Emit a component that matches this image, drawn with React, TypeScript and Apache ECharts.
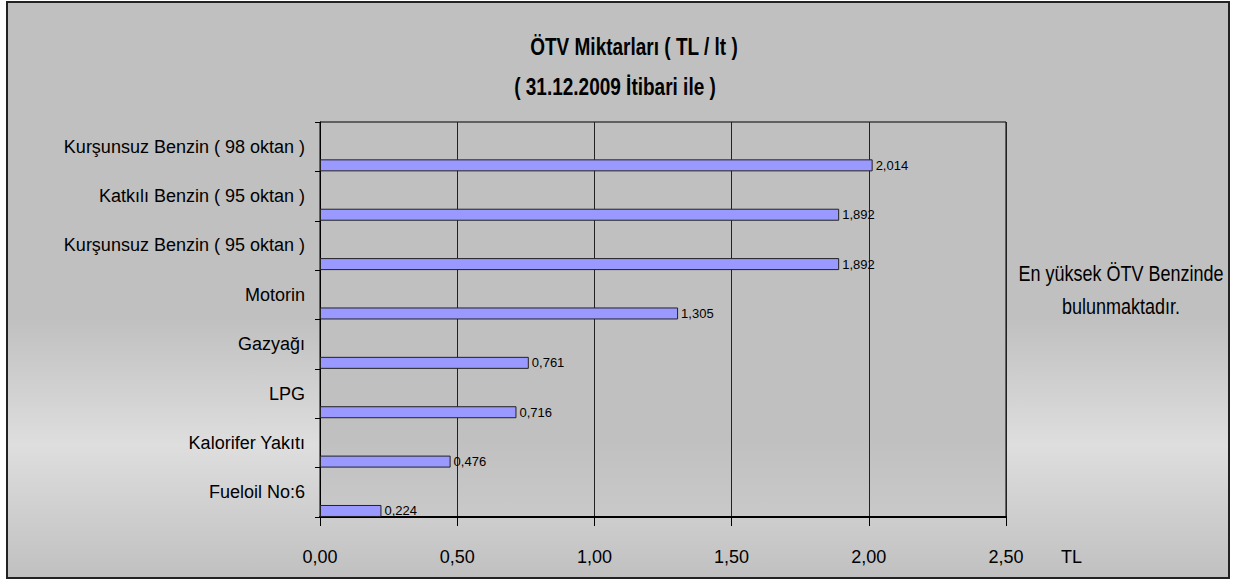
import React, { useEffect, useRef } from "react";
import * as echarts from "echarts";

const categories = [
  "Kurşunsuz Benzin ( 98 oktan )",
  "Katkılı Benzin ( 95 oktan )",
  "Kurşunsuz Benzin ( 95 oktan )",
  "Motorin",
  "Gazyağı",
  "LPG",
  "Kalorifer Yakıtı",
  "Fueloil No:6",
];
const values = [2.014, 1.892, 1.892, 1.305, 0.761, 0.716, 0.476, 0.224];
const titleLines = ["ÖTV Miktarları ( TL / lt )", "( 31.12.2009 İtibari ile )"];
const noteLines = ["En yüksek ÖTV Benzinde", "bulunmaktadır."];
const axisUnit = "TL";

const FONT = "'Liberation Sans', Arial, Helvetica, sans-serif";

export default function App() {
  const ref = useRef<HTMLDivElement>(null);
  useEffect(() => {
    document.body.style.margin = "0";
    const chart = echarts.init(ref.current!, null, { renderer: "svg" });
    const fmt = (v: number, d: number) => v.toFixed(d).replace(".", ",");
    const stretchedText = (text: string, x: number, y: number, font: string) => ({
      type: "text",
      x,
      y,
      scaleY: 1.22,
      style: {
        text,
        font,
        fill: "#000",
        textAlign: "center",
        textVerticalAlign: "middle",
      },
    });
    chart.setOption({
      animation: false,
      backgroundColor: "#ffffff",
      textStyle: { fontFamily: FONT },
      graphic: [
        {
          type: "rect",
          z: -10,
          silent: true,
          shape: { x: 7, y: 2, width: 1222, height: 576 },
          style: {
            fill: new echarts.graphic.LinearGradient(0, 0, 0, 1, [
              { offset: 0, color: "#c0c0c0" },
              { offset: 0.55, color: "#c0c0c0" },
              { offset: 0.77, color: "#dedede" },
              { offset: 1, color: "#c0c0c0" },
            ]),
            stroke: "#222222",
            lineWidth: 2,
          },
        },
        stretchedText(titleLines[0], 634, 47, `bold 19px ${FONT}`),
        stretchedText(titleLines[1], 615, 87, `bold 19px ${FONT}`),
        stretchedText(noteLines[0], 1121, 273, `18px ${FONT}`),
        stretchedText(noteLines[1], 1121, 306, `18px ${FONT}`),
      ],
      grid: {
        left: 320,
        right: 230,
        top: 122,
        bottom: 64,
        show: true,
        borderColor: "#000",
        borderWidth: 1,
        backgroundColor: new echarts.graphic.LinearGradient(0, 0, 0, 1, [
          { offset: 0, color: "#c0c0c0" },
          { offset: 0.8, color: "#c0c0c0" },
          { offset: 1, color: "#c9c9c9" },
        ]),
      },
      xAxis: {
        type: "value",
        min: 0,
        max: 2.5,
        interval: 0.5,
        name: axisUnit,
        nameLocation: "end",
        nameGap: 55,
        nameTextStyle: {
          fontSize: 18,
          color: "#000",
          fontFamily: FONT,
          verticalAlign: "top",
          padding: [31, 0, 0, 0],
        },
        axisLine: { show: true, lineStyle: { color: "#000", width: 2 } },
        axisTick: { show: true, length: 9, lineStyle: { color: "#000" } },
        axisLabel: {
          fontSize: 18,
          color: "#000",
          margin: 31,
          fontFamily: FONT,
          formatter: (v: number) => fmt(v, 2),
        },
        splitLine: { show: true, lineStyle: { color: "#222", width: 1 } },
      },
      yAxis: {
        type: "category",
        data: categories,
        inverse: true,
        axisLine: { show: true, lineStyle: { color: "#000", width: 1 } },
        axisTick: { show: true, length: 5, lineStyle: { color: "#000" } },
        axisLabel: { fontSize: 18, color: "#000", margin: 15, fontFamily: FONT },
        splitLine: { show: false },
      },
      series: [
        {
          type: "bar",
          name: "spacer",
          data: categories.map(() => null),
          barWidth: 12,
          barGap: "211%",
          silent: true,
        },
        {
          type: "bar",
          name: "ÖTV",
          data: values,
          barWidth: 12,
          barGap: "211%",
          itemStyle: { color: "#9999ff", borderColor: "#222", borderWidth: 1 },
          label: {
            show: true,
            position: "right",
            distance: 3,
            fontSize: 13,
            color: "#000",
            fontFamily: FONT,
            formatter: (p: any) => fmt(p.value, 3),
          },
        },
      ],
    });
    return () => chart.dispose();
  }, []);
  return (
    <div
      ref={ref}
      style={{ position: "absolute", left: 0, top: 0, width: 1236, height: 581 }}
    />
  );
}
